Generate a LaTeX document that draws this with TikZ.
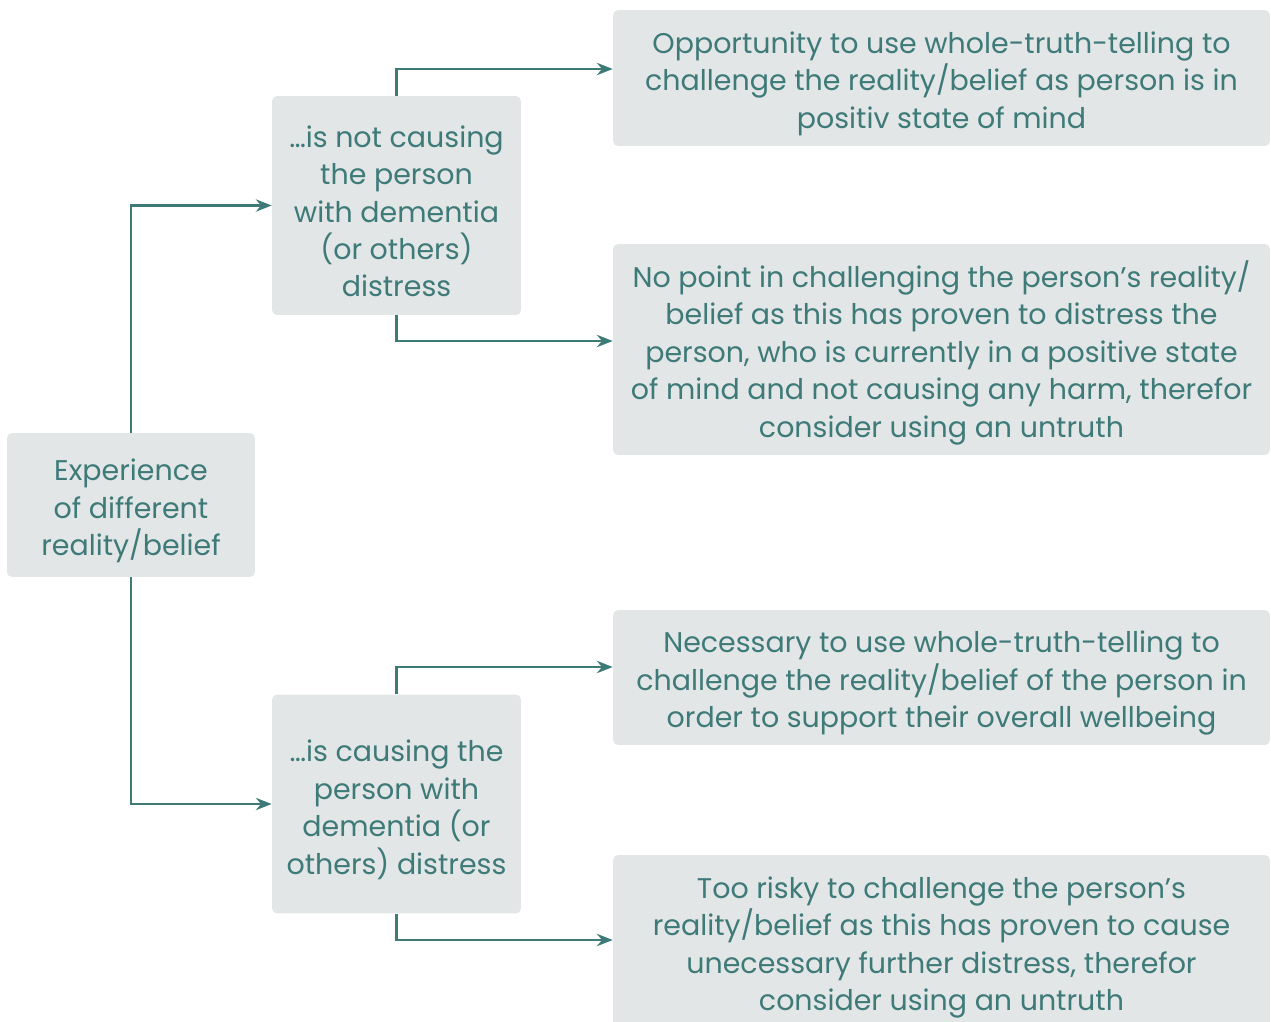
\documentclass[tikz,border=0pt]{standalone}
\usepackage{fontspec}
\setmainfont{Poppins}
\usetikzlibrary{arrows.meta}
\definecolor{tealtext}{RGB}{62,122,120}
\definecolor{boxgrey}{RGB}{226,230,230}
\tikzset{>={Stealth[length=9pt,width=7pt]}}
\newcommand{\padtop}{\rule{0pt}{19pt}}

\begin{document}
\begin{tikzpicture}[x=0.02cm,y=-0.02cm,
    box/.style={fill=boxgrey, rounded corners=0.1cm, text=tealtext, align=center,
      inner sep=0pt, font=\fontsize{16.2}{21.3}\selectfont},
    smallbox/.style={box, minimum width=4.98cm, minimum height=4.38cm},
    widebox/.style={box, minimum width=13.14cm},
    link/.style={draw=tealtext, line width=1.3pt, ->}]
  \useasboundingbox (0,0) rectangle (1271,1021);
  % root
  \node[box, minimum width=4.96cm, minimum height=2.88cm] (exp) at (131,505)
    {\padtop Experience\\of different\\reality/belief};
  % middle column
  \node[smallbox] (notcausing) at (396.5,205.5)
    {\padtop …is not causing\\the person\\with dementia\\(or others)\\distress};
  \node[smallbox] (causing) at (396.5,804)
    {\padtop …is causing the\\person with\\dementia (or\\others) distress};
  % outcomes
  \node[widebox, minimum height=2.72cm] (opportunity) at (941.5,78)
    {\padtop Opportunity to use whole-truth-telling to\\challenge the reality/belief as person is in\\positiv state of mind};
  \node[widebox, minimum height=4.22cm] (nopoint) at (941.5,349.5)
    {\padtop No point in challenging the person’s reality/\\belief as this has proven to distress the\\person, who is currently in a positive state\\of mind and not causing any harm, therefor\\consider using an untruth};
  \node[widebox, minimum height=2.7cm] (necessary) at (941.5,677.5)
    {\padtop Necessary to use whole-truth-telling to\\challenge the reality/belief of the person in\\order to support their overall wellbeing};
  \node[widebox, minimum height=3.46cm] (toorisky) at (941.5,941.5)
    {\padtop Too risky to challenge the person’s\\reality/belief as this has proven to cause\\unecessary further distress, therefor\\consider using an untruth};
  % connectors
  \draw[link] (exp.north) |- (notcausing.west);
  \draw[link] (exp.south) |- (causing.west);
  \draw[link] (notcausing.north) |- ([yshift=0.18cm]opportunity.west);
  \draw[link] (notcausing.south) |- ([yshift=0.17cm]nopoint.west);
  \draw[link] (causing.north) |- ([yshift=0.21cm]necessary.west);
  \draw[link] (causing.south) |- ([yshift=0.03cm]toorisky.west);
\end{tikzpicture}
\end{document}
